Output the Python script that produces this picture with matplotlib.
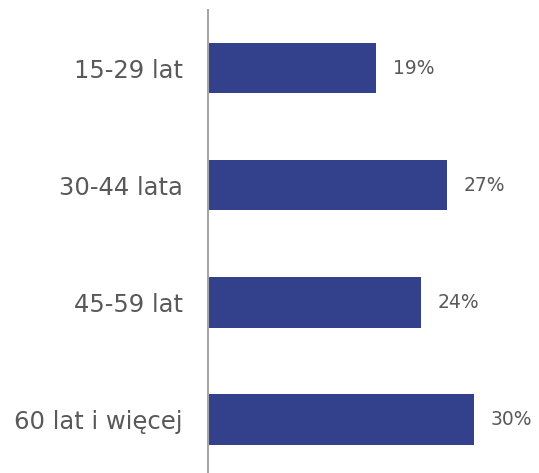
import matplotlib
matplotlib.use("Agg")
import matplotlib.pyplot as plt

categories = ["15-29 lat", "30-44 lata", "45-59 lat", "60 lat i więcej"]
shares = [19, 27, 24, 30]
value_labels = ["19%", "27%", "24%", "30%"]

BAR = "#33408B"
TEXT = "#595959"

plt.rcParams["font.family"] = ["DejaVu Sans"]

fig = plt.figure(figsize=(5.39, 4.73), dpi=100)
ax = fig.add_axes([208 / 539, 0, 310 / 539, 463 / 473])

pos = list(range(len(categories)))
ax.barh(pos, shares, height=0.43, color=BAR)
ax.set_xlim(0, 35)
ax.set_ylim(3.456, -0.495)

for y, v, lab in zip(pos, shares, value_labels):
    ax.annotate(lab, (v, y), xytext=(12, 0), textcoords="offset points",
                va="center", ha="left", fontsize=13.5, color=TEXT)

ax.set_yticks(pos)
ax.set_yticklabels(categories, fontsize=17.5, color=TEXT)
ax.tick_params(axis="y", length=0, pad=18)
ax.set_xticks([])
for s in ("top", "right", "bottom"):
    ax.spines[s].set_visible(False)
ax.spines["left"].set_color("#A6A6A6")
ax.spines["left"].set_linewidth(1.5)

fig.savefig("out.png", dpi=100)
